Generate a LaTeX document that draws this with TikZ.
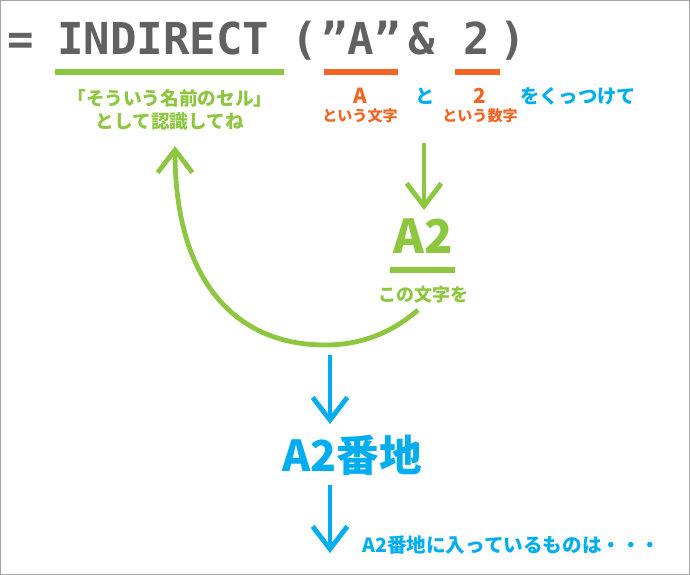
\documentclass[tikz,border=0pt]{standalone}
\usepackage{fontspec}
\usetikzlibrary{arrows.meta}
\newfontfamily\jp{Noto Sans CJK JP}
\newfontfamily\mono{DejaVu Sans Mono}
\definecolor{lgreen}{HTML}{8DC63F}
\definecolor{lorange}{HTML}{F26522}
\definecolor{lblue}{HTML}{00AEEF}
\definecolor{dgray}{HTML}{616161}
\definecolor{frame}{HTML}{A6A6A6}
\tikzset{
  title/.style={font=\mono\bfseries\fontsize{33}{33}\selectfont, text=dgray, inner sep=0pt, anchor=base},
  jptext/.style={font=\jp\bfseries\fontsize{#1}{#1}\selectfont, inner sep=0pt},
  uline/.style={line width=3.8pt},
  darrow/.style={line width=3.6pt, -{Straight Barb[length=17pt,width=26pt]}},
}
\begin{document}
\begin{tikzpicture}[x=0.75pt,y=-0.75pt]
\useasboundingbox (0,0) rectangle (690,575);
\draw[frame, line width=1pt] (0.7,0.7) rectangle (689.3,574.3);
% title
\node[title] (eq) at (21,54) {=};
\node[title, anchor=base west] (ind) at (57,54) {INDIRECT};
\node[title] (lp) at (305,54) {(};
\node[title] (qa) at (361,54) {”A”};
\node[title] (amp) at (422,54) {\&};
\node[title] (two) at (477,54) {2};
\node[title] (rp) at (513,54) {)};
% underlines
\draw[uline, lgreen] (55,72) -- (284,72);
\draw[uline, lorange] (324,72) -- (398,72);
\draw[uline, lorange] (455,72) -- (500,72);
% labels
\node[jptext=14, text=lgreen] (n1) at (170,98) {「そういう名前のセル」};
\node[jptext=14, text=lgreen] (n2) at (170,121) {として認識してね};
\node[jptext=15.5, text=lorange] (la) at (360,96) {A};
\node[jptext=11.3, text=lorange] (lam) at (360,116) {という文字};
\node[jptext=14.5, text=lblue] (to) at (425,96) {と};
\node[jptext=15.5, text=lorange] (l2) at (480,96) {2};
\node[jptext=11.3, text=lorange] (l2m) at (480,116) {という数字};
\node[jptext=14.5, text=lblue, anchor=west] (kut) at (520,96) {をくっつけて};
% A2
\node[jptext=35, text=lgreen] (a2) at (423,236) {A2};
\draw[uline, lgreen] (390,270) -- (455,270);
\node[jptext=13.5, text=lgreen] (kono) at (423,295) {この文字を};
% green arrows
\coordinate (g1s) at (424,143);
\coordinate (g1e) at (424,210);
\draw[darrow, lgreen] (g1s) -- (g1e);
\coordinate (cs) at (418,310);
\coordinate (cb) at (325,345);
\coordinate (ce) at (175,146);
\draw[darrow, lgreen] (cs) .. controls (395,330) and (365,345) .. (cb)
  .. controls (235,345) and (175,280) .. (ce);
% blue
\coordinate (b1s) at (330,355);
\coordinate (b1e) at (330,424);
\draw[darrow, lblue] (b1s) -- (b1e);
\node[jptext=32, text=lblue] (addr) at (352,455) {A2番地};
\coordinate (b2s) at (330,485);
\coordinate (b2e) at (330,553);
\draw[darrow, lblue] (b2s) -- (b2e);
\node[jptext=14.7, text=lblue, anchor=west] (last) at (362,545) {A2番地に入っているものは・・・};
\end{tikzpicture}
\end{document}
